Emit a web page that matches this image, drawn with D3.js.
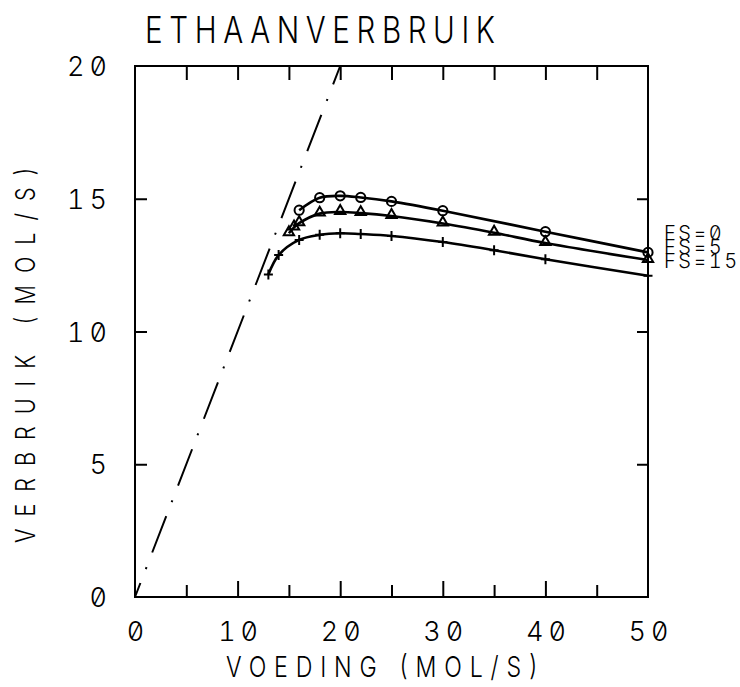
<!DOCTYPE html>
<html>
<head>
<meta charset="utf-8">
<script src="https://cdn.jsdelivr.net/npm/d3@7"></script>
<style>
  html, body { margin: 0; padding: 0; background: #fff; }
  svg text { font-family: Inter, "DejaVu Sans", sans-serif; font-weight: 300; fill: #000;
             font-variant-numeric: slashed-zero tabular-nums; font-feature-settings: "zero" 1, "tnum" 1; }
</style>
</head>
<body>
<svg id="chart" width="740" height="687"></svg>
<script>
// ---- data ----
const titleText = "ETHAANVERBRUIK";
const xTitle = "VOEDING  (MOL/S)";
const yTitle = "VERBRUIK (MOL/S)";
const xTickLabels = [0, 10, 20, 30, 40, 50];
const yTickLabels = [0, 5, 10, 15, 20];
const seriesNames = ["FS=0", "FS=5", "FS=15"];

const fs0X = [16, 18, 20, 22, 25, 30, 40, 50];
const fs0Y = [14.57, 15.04, 15.11, 15.05, 14.9, 14.55, 13.76, 12.98];

const fs5X = [15, 15.5, 16, 18, 20, 22, 25, 30, 35, 40, 50];
const fs5Y = [13.7, 13.92, 14.08, 14.44, 14.5, 14.46, 14.35, 14.07, 13.72, 13.33, 12.69];

const fs15X = [13, 14, 16, 18, 20, 22, 25, 30, 35, 40, 50];
const fs15Y = [12.15, 12.88, 13.45, 13.64, 13.7, 13.67, 13.6, 13.37, 13.06, 12.72, 12.1];

// feed = consumption reference line
const refX = [0, 20];
const refY = [0, 20];

// ---- layout ----
const svg = d3.select("#chart");
const L = 135, R = 648, T = 66, B = 597;
const x = d3.scaleLinear().domain([0, 50]).range([L, R]);
const y = d3.scaleLinear().domain([0, 20]).range([B, T]);

// frame
svg.append("rect").attr("x", L).attr("y", T).attr("width", R - L).attr("height", B - T)
  .attr("fill", "none").attr("stroke", "#000").attr("stroke-width", 2);

function styleTicks(g) {
  g.select(".domain").remove();
  g.selectAll(".tick line").attr("stroke", "#000").attr("stroke-width", 2);
  g.selectAll(".tick text").remove();
}

// inward ticks
svg.append("g").attr("transform", `translate(0,${T})`)
  .call(d3.axisTop(x).tickValues([5,10,15,20,25,30,35,40,45]).tickSize(-14)).call(styleTicks);
svg.append("g").attr("transform", `translate(0,${B})`)
  .call(d3.axisBottom(x).tickValues([10,20,30,40]).tickSize(-16)).call(styleTicks);
svg.append("g").attr("transform", `translate(0,${B})`)
  .call(d3.axisBottom(x).tickValues([5,15,25,35,45]).tickSize(-12)).call(styleTicks);
svg.append("g").attr("transform", `translate(${L},0)`)
  .call(d3.axisLeft(y).tickValues([5,10,15]).tickSize(-12)).call(styleTicks);
svg.append("g").attr("transform", `translate(${R},0)`)
  .call(d3.axisRight(y).tickValues([5,10,15]).tickSize(-11)).call(styleTicks);

// tick labels
const tickFont = 27, tickLS = 5;
const gx = svg.append("g").attr("transform", `translate(0,${B})`)
  .call(d3.axisBottom(x).tickValues(xTickLabels).tickSize(0).tickFormat(d3.format("d")));
gx.select(".domain").remove();
gx.selectAll("text").attr("y", 44).attr("dy", null).attr("dx", tickLS / 2)
  .attr("font-size", tickFont).attr("letter-spacing", tickLS).attr("font-family", null);

const gy = svg.append("g").attr("transform", `translate(${L},0)`)
  .call(d3.axisLeft(y).tickValues(yTickLabels).tickSize(0).tickFormat(d3.format("d")));
gy.select(".domain").remove();
gy.selectAll("text").attr("x", -28 + tickLS).attr("dy", "0.36em")
  .attr("font-size", tickFont).attr("letter-spacing", tickLS).attr("font-family", null);

// titles (horizontally condensed glyphs, like the plotter lettering)
const sx = 0.8;
svg.append("text").attr("transform", `translate(145,43) scale(${sx},1)`).attr("font-size", 37)
  .attr("textLength", 350 / sx).attr("lengthAdjust", "spacing").text(titleText);
svg.append("text").attr("transform", `translate(226,677) scale(${sx},1)`).attr("font-size", 29)
  .attr("textLength", 312 / sx).attr("lengthAdjust", "spacing").text(xTitle);
svg.append("text").attr("transform", `translate(35,543) rotate(-90) scale(${sx},1)`).attr("font-size", 27)
  .attr("textLength", 376 / sx).attr("lengthAdjust", "spacing").text(yTitle);

// reference dash-dot line
const line = d3.line().x(d => x(d[0])).y(d => y(d[1]));
svg.append("path").datum(d3.zip(refX, refY)).attr("d", line)
  .attr("fill", "none").attr("stroke", "#000").attr("stroke-width", 2)
  .attr("stroke-dasharray", "39,15,2,15.7").attr("stroke-dashoffset", 24);

// series
const curve = d3.line().x(d => x(d[0])).y(d => y(d[1])).curve(d3.curveCatmullRom.alpha(0.5));
const series = [
  { name: seriesNames[0], pts: d3.zip(fs0X, fs0Y), mark: "circle" },
  { name: seriesNames[1], pts: d3.zip(fs5X, fs5Y), mark: "triangle" },
  { name: seriesNames[2], pts: d3.zip(fs15X, fs15Y), mark: "plus" }
];
const tri = d3.symbol().type(d3.symbolTriangle).size(46);
series.forEach(s => {
  svg.append("path").datum(s.pts).attr("d", curve)
    .attr("fill", "none").attr("stroke", "#000").attr("stroke-width", 2.6);
  const g = svg.append("g");
  s.pts.forEach(p => {
    const cx = x(p[0]), cy = y(p[1]);
    if (s.mark === "circle") {
      g.append("circle").attr("cx", cx).attr("cy", cy).attr("r", 4.6)
        .attr("fill", "none").attr("stroke", "#000").attr("stroke-width", 2);
    } else if (s.mark === "triangle") {
      g.append("path").attr("d", tri).attr("transform", `translate(${cx},${cy - 1})`)
        .attr("fill", "none").attr("stroke", "#000").attr("stroke-width", 2);
    } else {
      g.append("path").attr("d", `M${cx - 4.5},${cy}H${cx + 4.5}M${cx},${cy - 5}V${cy + 5}`)
        .attr("fill", "none").attr("stroke", "#000").attr("stroke-width", 2);
    }
  });
});

// series labels at right
const labY = [240, 254, 268];
seriesNames.forEach((n, i) => {
  svg.append("text").attr("x", 664).attr("y", labY[i]).attr("font-size", 20)
    .attr("letter-spacing", 2.5).text(n);
});
</script>
</body>
</html>
